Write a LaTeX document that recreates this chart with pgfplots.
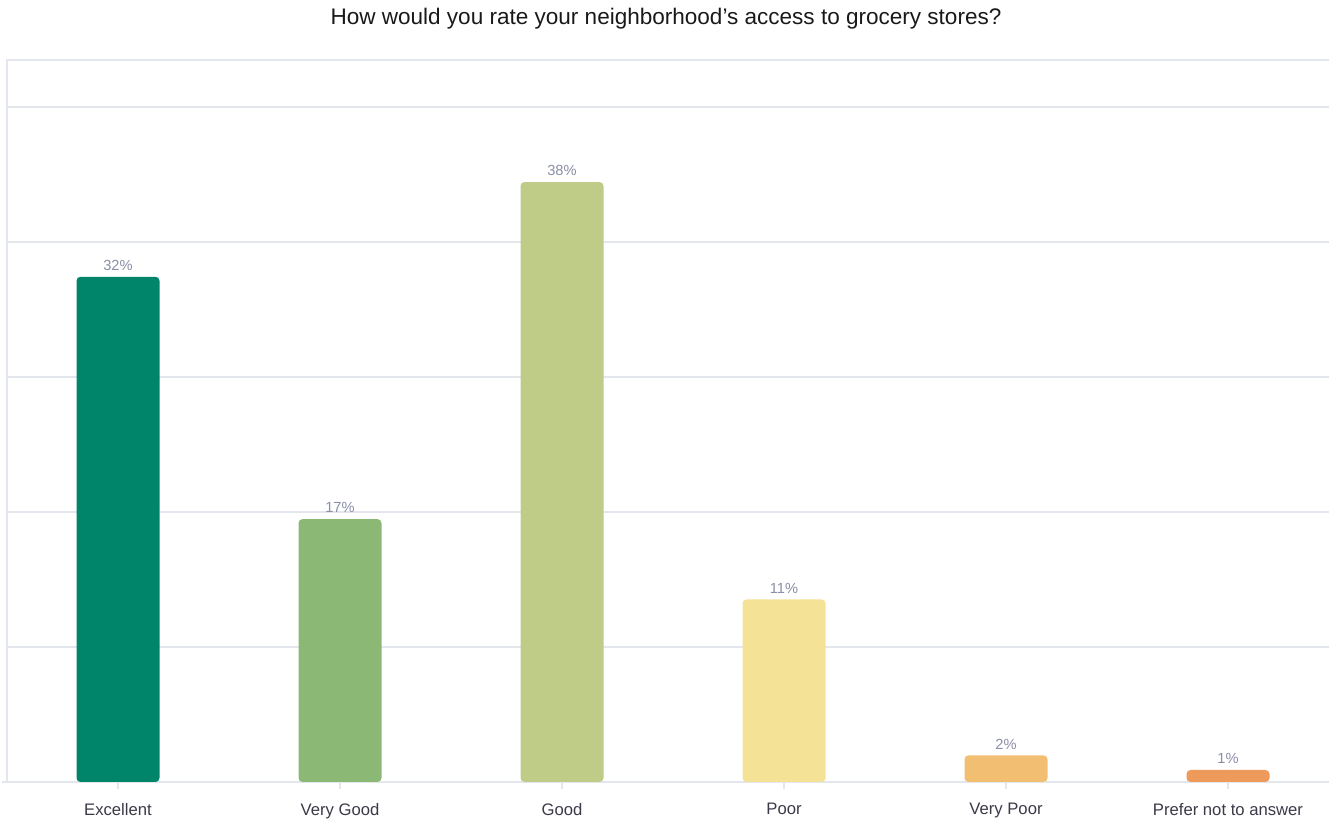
\documentclass[border=0pt]{standalone}
\usepackage{pgfplots}
\pgfplotsset{compat=1.18}
\usepackage{fontspec}
\setmainfont{Liberation Sans}
\definecolor{c1}{HTML}{00856A}
\definecolor{c2}{HTML}{8BB874}
\definecolor{c3}{HTML}{BFCC87}
\definecolor{c4}{HTML}{F4E297}
\definecolor{c5}{HTML}{F2BF72}
\definecolor{c6}{HTML}{EE9A5A}
\definecolor{gridc}{HTML}{E4E6EE}
\definecolor{valc}{HTML}{8A8EA6}
\definecolor{tickc}{HTML}{3A3A48}
\begin{document}
\begin{tikzpicture}
\useasboundingbox (0,0) rectangle (996.75pt,617.25pt);
\node[font=\fontsize{16.9}{20}\selectfont, text=black!90] at (499.5pt,603.5pt) {How would you rate your neighborhood’s access to grocery stores?};
\begin{axis}[
  at={(5.25pt,30.75pt)}, anchor=south west,
  scale only axis, width=991.5pt, height=541.5pt,
  xmin=-0.5, xmax=5.455, ymin=0, ymax=45.73,
  ybar, bar width=62.25pt,
  axis line style={draw=none},
  xtick pos=bottom,
  xtick={0,1,2,3,4,5},
  xticklabels={Excellent,Very Good,Good,Poor,Very Poor,Prefer not to answer},
  x tick label style={font=\fontsize{12.5}{15}\selectfont, text=tickc, yshift=-7.5pt},
  tick align=outside, major tick length=5pt,
  xtick style={draw=gridc, line width=0.8pt},
  ytick={0,8.55,17.10,25.65,34.20,42.75},
  yticklabels={},
  ytick style={draw=none},
  ymajorgrids, grid style={draw=gridc, line width=1.2pt},
  clip=false,
  point meta=explicit symbolic,
  nodes near coords,
  every node near coord/.append style={font=\fontsize{11}{13}\selectfont, text=valc, anchor=south, yshift=1pt},
]
\draw[gridc, line width=1.2pt] (rel axis cs:0,0) -- (rel axis cs:0,1) -- (rel axis cs:1,1);
\draw[gridc, line width=1.2pt] (rel axis cs:-0.004,0) -- (rel axis cs:1,0);
\addplot[bar shift=0pt, fill=c1, draw=none, rounded corners=3pt] coordinates {(0,32.0) [32\%]};
\addplot[bar shift=0pt, fill=c2, draw=none, rounded corners=3pt] coordinates {(1,16.65) [17\%]};
\addplot[bar shift=0pt, fill=c3, draw=none, rounded corners=3pt] coordinates {(2,38.0) [38\%]};
\addplot[bar shift=0pt, fill=c4, draw=none, rounded corners=3pt] coordinates {(3,11.57) [11\%]};
\addplot[bar shift=0pt, fill=c5, draw=none, rounded corners=3pt] coordinates {(4,1.69) [2\%]};
\addplot[bar shift=0pt, fill=c6, draw=none, rounded corners=3pt] coordinates {(5,0.76) [1\%]};
\end{axis}
\end{tikzpicture}
\end{document}
